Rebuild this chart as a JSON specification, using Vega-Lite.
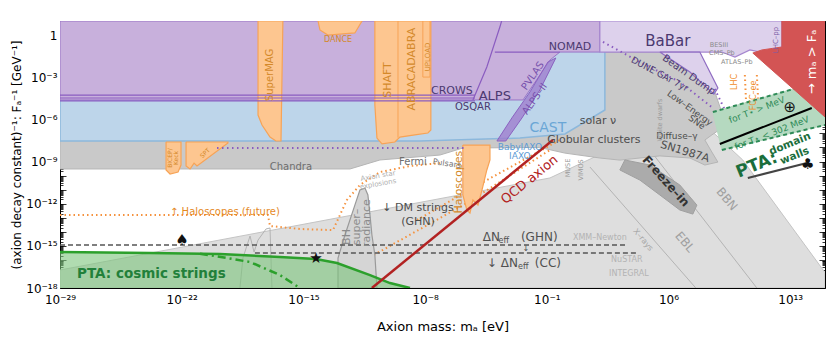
{
"$schema": "https://vega.github.io/schema/vega-lite/v6.json",
"width": 765, "height": 267,
"autosize": {"type": "none"},
"padding": {"left": 60, "top": 21, "right": 5, "bottom": 50},
"background": "white",
"config": {"view": {"stroke": "#000", "strokeWidth": 1}, "font": "DejaVu Sans", "text": {"font": "DejaVu Sans"}},
"datasets": {
"A": [{"i":0,"m":-29,"g":-18},{"i":1,"m":-29,"g":-16.72},{"i":2,"m":-0.82,"g":-10.17},{"i":3,"m":2.05,"g":-8.5},{"i":4,"m":5.5,"g":-6.5},{"i":5,"m":7.8,"g":-6.05},{"i":6,"m":10.27,"g":-8.89},{"i":7,"m":15,"g":-16.9},{"i":8,"m":15,"g":-18},{"i":9,"m":-29,"g":-18}],
"B": [{"i":0,"m":-29,"g":-7.4},{"i":1,"m":0.04,"g":-7.0},{"i":2,"m":2.34,"g":-1.21},{"i":3,"m":7.8,"g":-1.21},{"i":4,"m":8.66,"g":-4.05},{"i":5,"m":9.18,"g":-5.9},{"i":6,"m":9.07,"g":-6.62},{"i":7,"m":8.49,"g":-7.11},{"i":8,"m":8.09,"g":-7.47},{"i":9,"m":8.49,"g":-8.32},{"i":10,"m":8.84,"g":-9.04},{"i":11,"m":8.09,"g":-9.25},{"i":12,"m":7.23,"g":-8.75},{"i":13,"m":5.5,"g":-8.6},{"i":14,"m":3.2,"g":-8.9},{"i":15,"m":2.05,"g":-8.75},{"i":16,"m":0.04,"g":-8.4},{"i":17,"m":-1.4,"g":-8.0},{"i":18,"m":-5.83,"g":-8.04},{"i":19,"m":-7.15,"g":-8.54},{"i":20,"m":-10.6,"g":-8.89},{"i":21,"m":-12.32,"g":-9.53},{"i":22,"m":-29,"g":-9.53},{"i":23,"m":-29,"g":-7.4}],
"FZ": [{"i":0,"m":3.49,"g":-8.89},{"i":1,"m":4.93,"g":-9.25},{"i":2,"m":6.65,"g":-10.67},{"i":3,"m":7.63,"g":-12.1},{"i":4,"m":7.4,"g":-12.74},{"i":5,"m":6.65,"g":-12.45},{"i":6,"m":5.5,"g":-11.38},{"i":7,"m":4.35,"g":-10.32},{"i":8,"m":3.2,"g":-9.6},{"i":9,"m":3.49,"g":-8.89}],
"C": [{"i":0,"m":-29,"g":1},{"i":1,"m":2.34,"g":1},{"i":2,"m":2.34,"g":-5.33},{"i":3,"m":0.04,"g":-7.04},{"i":4,"m":-2.55,"g":-7.33},{"i":5,"m":-8.3,"g":-7.54},{"i":6,"m":-29,"g":-7.54},{"i":7,"m":-29,"g":1}],
"D": [{"i":0,"m":-29,"g":1},{"i":1,"m":2.05,"g":1},{"i":2,"m":2.05,"g":-1.21},{"i":3,"m":-0.25,"g":-1.21},{"i":4,"m":-0.82,"g":-1.78},{"i":5,"m":-2.37,"g":-4.62},{"i":6,"m":-29,"g":-4.62},{"i":7,"m":-29,"g":1}],
"HATCH": [{"i":0,"m":-3.87,"g":-7.54},{"i":1,"m":-3.01,"g":-5.9},{"i":2,"m":-1.97,"g":-4.05},{"i":3,"m":-0.94,"g":-1.92},{"i":4,"m":-0.48,"g":-1.63},{"i":5,"m":-1.4,"g":-3.91},{"i":6,"m":-2.43,"g":-5.9},{"i":7,"m":-3.36,"g":-7.54},{"i":8,"m":-3.87,"g":-7.54}],
"E": [{"i":0,"m":2.05,"g":1},{"i":1,"m":12.52,"g":1},{"i":2,"m":12.52,"g":-0.85},{"i":3,"m":11.54,"g":-1.28},{"i":4,"m":10.68,"g":-1.06},{"i":5,"m":9.82,"g":-1.56},{"i":6,"m":9.07,"g":-1.21},{"i":7,"m":2.05,"g":-1.21},{"i":8,"m":2.05,"g":1}],
"BD": [{"i":0,"m":5.5,"g":-1.21},{"i":1,"m":7.8,"g":-1.21},{"i":2,"m":8.84,"g":-3.77},{"i":3,"m":8.61,"g":-4.2},{"i":4,"m":7.23,"g":-2.63},{"i":5,"m":5.5,"g":-1.21}],
"F": [{"i":0,"m":12.52,"g":1},{"i":1,"m":15,"g":1},{"i":2,"m":15,"g":-5.83},{"i":3,"m":10.85,"g":-1.28},{"i":4,"m":11.37,"g":-1.06},{"i":5,"m":12.52,"g":-0.85},{"i":6,"m":12.52,"g":1}],
"G": [{"i":0,"m":8.55,"g":-5.48},{"i":1,"m":13.38,"g":-3.77},{"i":2,"m":15,"g":-5.55},{"i":3,"m":15,"g":-6.4},{"i":4,"m":9.07,"g":-8.18},{"i":5,"m":8.55,"g":-5.48}],
"OR": [
{"r":"SuperMAG","i":0,"m":-17.61,"g":1},{"r":"SuperMAG","i":1,"m":-17.61,"g":-5.69},{"r":"SuperMAG","i":2,"m":-17.38,"g":-6.4},{"r":"SuperMAG","i":3,"m":-16.92,"g":-7.26},{"r":"SuperMAG","i":4,"m":-16.58,"g":-7.54},{"r":"SuperMAG","i":5,"m":-16.29,"g":-7.54},{"r":"SuperMAG","i":6,"m":-16.18,"g":1},{"r":"SuperMAG","i":7,"m":-17.61,"g":1},
{"r":"DANCE","i":0,"m":-14.16,"g":1},{"r":"DANCE","i":1,"m":-14.05,"g":0.36},{"r":"DANCE","i":2,"m":-13.59,"g":0},{"r":"DANCE","i":3,"m":-12.04,"g":0.15},{"r":"DANCE","i":4,"m":-11.63,"g":1},{"r":"DANCE","i":5,"m":-14.16,"g":1},
{"r":"SHAFT","i":0,"m":-10.89,"g":1},{"r":"SHAFT","i":1,"m":-10.89,"g":-4.98},{"r":"SHAFT","i":2,"m":-10.77,"g":-7.33},{"r":"SHAFT","i":3,"m":-10.48,"g":-7.75},{"r":"SHAFT","i":4,"m":-9.74,"g":-7.61},{"r":"SHAFT","i":5,"m":-9.45,"g":-7.26},{"r":"SHAFT","i":6,"m":-8.59,"g":-7.11},{"r":"SHAFT","i":7,"m":-7.84,"g":-6.97},{"r":"SHAFT","i":8,"m":-7.67,"g":-6.76},{"r":"SHAFT","i":9,"m":-7.67,"g":1},{"r":"SHAFT","i":10,"m":-10.89,"g":1},
{"r":"BICEP","i":0,"m":-22.9,"g":-7.61},{"r":"BICEP","i":1,"m":-22.9,"g":-9.6},{"r":"BICEP","i":2,"m":-22.67,"g":-9.89},{"r":"BICEP","i":3,"m":-22.21,"g":-9.75},{"r":"BICEP","i":4,"m":-22.04,"g":-9.25},{"r":"BICEP","i":5,"m":-22.04,"g":-7.61},{"r":"BICEP","i":6,"m":-22.9,"g":-7.61},
{"r":"SPT","i":0,"m":-21.75,"g":-7.61},{"r":"SPT","i":1,"m":-21.75,"g":-9.32},{"r":"SPT","i":2,"m":-21.52,"g":-9.53},{"r":"SPT","i":3,"m":-21.29,"g":-9.11},{"r":"SPT","i":4,"m":-21.12,"g":-9.32},{"r":"SPT","i":5,"m":-19.34,"g":-7.68},{"r":"SPT","i":6,"m":-19.34,"g":-7.61},{"r":"SPT","i":7,"m":-21.75,"g":-7.61},
{"r":"Halo","i":0,"m":-5.83,"g":-7.83},{"r":"Halo","i":1,"m":-5.83,"g":-11.38},{"r":"Halo","i":2,"m":-5.6,"g":-12.45},{"r":"Halo","i":3,"m":-5.42,"g":-12.67},{"r":"Halo","i":4,"m":-5.25,"g":-11.74},{"r":"Halo","i":5,"m":-4.96,"g":-12.1},{"r":"Halo","i":6,"m":-4.73,"g":-11.03},{"r":"Halo","i":7,"m":-4.45,"g":-9.6},{"r":"Halo","i":8,"m":-4.27,"g":-8.89},{"r":"Halo","i":9,"m":-4.27,"g":-7.83},{"r":"Halo","i":10,"m":-5.83,"g":-7.83}],
"ORL": [{"r":"div","i":0,"m":-9.56,"g":1},{"r":"div","i":1,"m":-9.56,"g":-7.3},{"r":"up","i":0,"m":-8.13,"g":1},{"r":"up","i":1,"m":-8.13,"g":-2.99},{"r":"up","i":2,"m":-7.72,"g":-2.99},{"r":"up","i":3,"m":-7.72,"g":1}],
"BH": [{"i":0,"m":-13.01,"g":-18},{"i":1,"m":-13.01,"g":-15.87},{"i":2,"m":-12.61,"g":-14.23},{"i":3,"m":-12.04,"g":-12.1},{"i":4,"m":-11.75,"g":-11.03},{"i":5,"m":-11.46,"g":-10.89},{"i":6,"m":-11.29,"g":-11.38},{"i":7,"m":-11.17,"g":-12.81},{"i":8,"m":-11.06,"g":-14.23},{"i":9,"m":-10.89,"g":-15.65},{"i":10,"m":-10.77,"g":-18},{"i":11,"m":-13.01,"g":-18}],
"H": [{"i":0,"m":-29,"g":-15.44},{"i":1,"m":-23.82,"g":-15.51},{"i":2,"m":-19.8,"g":-15.58},{"i":3,"m":-16.35,"g":-15.8},{"i":4,"m":-14.28,"g":-15.94},{"i":5,"m":-13.07,"g":-16.22},{"i":6,"m":-11.17,"g":-17.08},{"i":7,"m":-10.02,"g":-17.65},{"i":8,"m":-8.87,"g":-18},{"i":9,"m":-29,"g":-18},{"i":10,"m":-29,"g":-15.44}],
"HL": [{"i":0,"m":-29,"g":-15.44},{"i":1,"m":-23.82,"g":-15.51},{"i":2,"m":-19.8,"g":-15.58},{"i":3,"m":-16.35,"g":-15.8},{"i":4,"m":-14.28,"g":-15.94},{"i":5,"m":-13.07,"g":-16.22},{"i":6,"m":-11.17,"g":-17.08},{"i":7,"m":-10.02,"g":-17.65},{"i":8,"m":-8.87,"g":-18}],
"DDOT": [{"i":0,"m":-20.95,"g":-15.56},{"i":1,"m":-19.97,"g":-15.75},{"i":2,"m":-18.07,"g":-16.15},{"i":3,"m":-16.35,"g":-17.08},{"i":4,"m":-15.2,"g":-18}],
"GRAYL": [{"r":"L1","i":0,"m":4.93,"g":-8.18},{"r":"L1","i":1,"m":11.08,"g":-18},{"r":"L2","i":0,"m":1.48,"g":-9.39},{"r":"L2","i":1,"m":7.57,"g":-18},
{"r":"tri","i":0,"m":-18.65,"g":-18},{"r":"tri","i":1,"m":-18.48,"g":-15.87},{"r":"tri","i":2,"m":-18.07,"g":-14.3},{"r":"tri","i":3,"m":-17.84,"g":-15.44},{"r":"tri","i":4,"m":-17.61,"g":-14.59},{"r":"tri","i":5,"m":-17.15,"g":-13.8},{"r":"tri","i":6,"m":-16.92,"g":-13.73},{"r":"tri","i":7,"m":-16.81,"g":-18}],
"PURL": [{"r":"c1","i":0,"m":-29,"g":-4.27},{"r":"c1","i":1,"m":-5.13,"g":-4.27},{"r":"c2","i":0,"m":-29,"g":-4.48},{"r":"c2","i":1,"m":-5.13,"g":-4.48},{"r":"c3","i":0,"m":-29,"g":-4.69},{"r":"c3","i":1,"m":-5.13,"g":-4.69},
{"r":"alps","i":0,"m":-5.25,"g":-4.62},{"r":"alps","i":1,"m":-4.45,"g":-2.27},{"r":"alps","i":2,"m":-3.7,"g":0.57},{"r":"alps","i":3,"m":-3.6,"g":1},
{"r":"nomad","i":0,"m":-3.99,"g":-1.21},{"r":"nomad","i":1,"m":-0.25,"g":-1.21}],
"PURD": [{"r":"iaxo","i":0,"m":-19.97,"g":-8.04},{"r":"iaxo","i":1,"m":-5.71,"g":-8.04},
{"r":"dune","i":0,"m":2.23,"g":-0.49},{"r":"dune","i":1,"m":4.35,"g":-1.92},{"r":"dune","i":2,"m":6.65,"g":-3.34},{"r":"dune","i":3,"m":8.55,"g":-5.19},
{"r":"bd2","i":0,"m":8.66,"g":-3.84},{"r":"bd2","i":1,"m":9.24,"g":-5.33}],
"ORD": [{"r":"o1","i":0,"m":-29,"g":-12.81},{"r":"o1","i":1,"m":-17.04,"g":-12.81},{"r":"o1","i":2,"m":-16.92,"g":-13.59},{"r":"o1","i":3,"m":-15.2,"g":-13.8},{"r":"o1","i":4,"m":-13.3,"g":-13.88},{"r":"o1","i":5,"m":-12.9,"g":-12.81},{"r":"o1","i":6,"m":-12.5,"g":-11.74},{"r":"o1","i":7,"m":-11.75,"g":-10.67},{"r":"o1","i":8,"m":-10.6,"g":-9.75},{"r":"o1","i":9,"m":-8.87,"g":-9.32},{"r":"o1","i":10,"m":-7.15,"g":-9.11},
{"r":"o2","i":0,"m":-11.17,"g":-15.8},{"r":"o2","i":1,"m":-5.6,"g":-11.95},{"r":"o2","i":2,"m":-0.82,"g":-8.18},
{"r":"o3","i":0,"m":-8.47,"g":-13.16},{"r":"o3","i":1,"m":-4.45,"g":-10.32},{"r":"o3","i":2,"m":-0.25,"g":-7.47},
{"r":"lhc","i":0,"m":10.39,"g":-2.84},{"r":"lhc","i":1,"m":10.56,"g":-7.47},
{"r":"fcc","i":0,"m":11.08,"g":-2.84},{"r":"fcc","i":1,"m":11.25,"g":-6.76}],
"DASH": [{"r":"ghn","i":0,"m":-29,"g":-14.94},{"r":"ghn","i":1,"m":3.66,"g":-14.94},{"r":"cc","i":0,"m":-17.79,"g":-15.51},{"r":"cc","i":1,"m":4.18,"g":-15.51}],
"DD": [{"r":"u","i":0,"m":8.55,"g":-5.48},{"r":"u","i":1,"m":13.38,"g":-3.77},{"r":"l","i":0,"m":9.07,"g":-8.18},{"r":"l","i":1,"m":15,"g":-6.4}],
"BLK": [{"i":0,"m":8.95,"g":-7.75},{"i":1,"m":14.24,"g":-5.19}],
"GRL": [{"i":0,"m":10.56,"g":-10.17},{"i":1,"m":13.96,"g":-9.11}],
"QCD": [{"i":0,"m":-11.06,"g":-18},{"i":1,"m":-0.65,"g":-7.47}]
},
"encoding": {
"x": {"field": "m", "type": "quantitative", "scale": {"domain": [-29, 15], "nice": false, "zero": false}, "axis": null},
"y": {"field": "g", "type": "quantitative", "scale": {"domain": [-18, 1], "nice": false, "zero": false}, "axis": null}
},
"resolve": {"axis": {"x": "independent", "y": "independent"}},
"layer": [
{"data": {"name": "A"}, "mark": {"type": "line", "fill": "#dedede", "stroke": "#c4c4c4", "strokeWidth": 1, "clip": true},
 "encoding": {"order": {"field": "i"},
  "x": {"field": "m", "type": "quantitative", "scale": {"domain": [-29, 15], "nice": false, "zero": false},
   "axis": {"orient": "bottom", "values": [
-29,-28.699,-28.523,-28.398,-28.301,-28.222,-28.155,-28.097,-28.046,
-28,-27.699,-27.523,-27.398,-27.301,-27.222,-27.155,-27.097,-27.046,
-27,-26.699,-26.523,-26.398,-26.301,-26.222,-26.155,-26.097,-26.046,
-26,-25.699,-25.523,-25.398,-25.301,-25.222,-25.155,-25.097,-25.046,
-25,-24.699,-24.523,-24.398,-24.301,-24.222,-24.155,-24.097,-24.046,
-24,-23.699,-23.523,-23.398,-23.301,-23.222,-23.155,-23.097,-23.046,
-23,-22.699,-22.523,-22.398,-22.301,-22.222,-22.155,-22.097,-22.046,
-22,-21.699,-21.523,-21.398,-21.301,-21.222,-21.155,-21.097,-21.046,
-21,-20.699,-20.523,-20.398,-20.301,-20.222,-20.155,-20.097,-20.046,
-20,-19.699,-19.523,-19.398,-19.301,-19.222,-19.155,-19.097,-19.046,
-19,-18.699,-18.523,-18.398,-18.301,-18.222,-18.155,-18.097,-18.046,
-18,-17.699,-17.523,-17.398,-17.301,-17.222,-17.155,-17.097,-17.046,
-17,-16.699,-16.523,-16.398,-16.301,-16.222,-16.155,-16.097,-16.046,
-16,-15.699,-15.523,-15.398,-15.301,-15.222,-15.155,-15.097,-15.046,
-15,-14.699,-14.523,-14.398,-14.301,-14.222,-14.155,-14.097,-14.046,
-14,-13.699,-13.523,-13.398,-13.301,-13.222,-13.155,-13.097,-13.046,
-13,-12.699,-12.523,-12.398,-12.301,-12.222,-12.155,-12.097,-12.046,
-12,-11.699,-11.523,-11.398,-11.301,-11.222,-11.155,-11.097,-11.046,
-11,-10.699,-10.523,-10.398,-10.301,-10.222,-10.155,-10.097,-10.046,
-10,-9.699,-9.523,-9.398,-9.301,-9.222,-9.155,-9.097,-9.046,
-9,-8.699,-8.523,-8.398,-8.301,-8.222,-8.155,-8.097,-8.046,
-8,-7.699,-7.523,-7.398,-7.301,-7.222,-7.155,-7.097,-7.046,
-7,-6.699,-6.523,-6.398,-6.301,-6.222,-6.155,-6.097,-6.046,
-6,-5.699,-5.523,-5.398,-5.301,-5.222,-5.155,-5.097,-5.046,
-5,-4.699,-4.523,-4.398,-4.301,-4.222,-4.155,-4.097,-4.046,
-4,-3.699,-3.523,-3.398,-3.301,-3.222,-3.155,-3.097,-3.046,
-3,-2.699,-2.523,-2.398,-2.301,-2.222,-2.155,-2.097,-2.046,
-2,-1.699,-1.523,-1.398,-1.301,-1.222,-1.155,-1.097,-1.046,
-1,-0.699,-0.523,-0.398,-0.301,-0.222,-0.155,-0.097,-0.046,
0,0.301,0.477,0.602,0.699,0.778,0.845,0.903,0.954,
1,1.301,1.477,1.602,1.699,1.778,1.845,1.903,1.954,
2,2.301,2.477,2.602,2.699,2.778,2.845,2.903,2.954,
3,3.301,3.477,3.602,3.699,3.778,3.845,3.903,3.954,
4,4.301,4.477,4.602,4.699,4.778,4.845,4.903,4.954,
5,5.301,5.477,5.602,5.699,5.778,5.845,5.903,5.954,
6,6.301,6.477,6.602,6.699,6.778,6.845,6.903,6.954,
7,7.301,7.477,7.602,7.699,7.778,7.845,7.903,7.954,
8,8.301,8.477,8.602,8.699,8.778,8.845,8.903,8.954,
9,9.301,9.477,9.602,9.699,9.778,9.845,9.903,9.954,
10,10.301,10.477,10.602,10.699,10.778,10.845,10.903,10.954,
11,11.301,11.477,11.602,11.699,11.778,11.845,11.903,11.954,
12,12.301,12.477,12.602,12.699,12.778,12.845,12.903,12.954,
13,13.301,13.477,13.602,13.699,13.778,13.845,13.903,13.954,
14,14.301,14.477,14.602,14.699,14.778,14.845,14.903,14.954,
15],
    "labelExpr": "datum.value==-29?'10⁻²⁹':datum.value==-22?'10⁻²²':datum.value==-15?'10⁻¹⁵':datum.value==-8?'10⁻⁸':datum.value==-1?'10⁻¹':datum.value==6?'10⁶':datum.value==13?'10¹³':''",
    "title": "Axion mass: mₐ [eV]", "titleFont": "DejaVu Sans", "titleFontSize": 13, "titleFontWeight": "normal", "titleColor": "#000", "titlePadding": 12,
    "labelFont": "DejaVu Sans", "labelFontSize": 12, "labelColor": "#000", "labelPadding": 12, "labelFlush": false, "labelOverlap": false,
    "tickSize": {"condition": {"test": "datum.value == round(datum.value)", "value": -6}, "value": -3}, "tickColor": "#000", "tickWidth": 0.8, "domain": false, "grid": false}},
  "y": {"field": "g", "type": "quantitative", "scale": {"domain": [-18, 1], "nice": false, "zero": false},
   "axis": {"orient": "left", "values": [
-18,-17.699,-17.523,-17.398,-17.301,-17.222,-17.155,-17.097,-17.046,
-17,-16.699,-16.523,-16.398,-16.301,-16.222,-16.155,-16.097,-16.046,
-16,-15.699,-15.523,-15.398,-15.301,-15.222,-15.155,-15.097,-15.046,
-15,-14.699,-14.523,-14.398,-14.301,-14.222,-14.155,-14.097,-14.046,
-14,-13.699,-13.523,-13.398,-13.301,-13.222,-13.155,-13.097,-13.046,
-13,-12.699,-12.523,-12.398,-12.301,-12.222,-12.155,-12.097,-12.046,
-12,-11.699,-11.523,-11.398,-11.301,-11.222,-11.155,-11.097,-11.046,
-11,-10.699,-10.523,-10.398,-10.301,-10.222,-10.155,-10.097,-10.046,
-10,-9.699,-9.523,-9.398,-9.301,-9.222,-9.155,-9.097,-9.046,
-9,-8.699,-8.523,-8.398,-8.301,-8.222,-8.155,-8.097,-8.046,
-8,-7.699,-7.523,-7.398,-7.301,-7.222,-7.155,-7.097,-7.046,
-7,-6.699,-6.523,-6.398,-6.301,-6.222,-6.155,-6.097,-6.046,
-6,-5.699,-5.523,-5.398,-5.301,-5.222,-5.155,-5.097,-5.046,
-5,-4.699,-4.523,-4.398,-4.301,-4.222,-4.155,-4.097,-4.046,
-4,-3.699,-3.523,-3.398,-3.301,-3.222,-3.155,-3.097,-3.046,
-3,-2.699,-2.523,-2.398,-2.301,-2.222,-2.155,-2.097,-2.046,
-2,-1.699,-1.523,-1.398,-1.301,-1.222,-1.155,-1.097,-1.046,
-1,-0.699,-0.523,-0.398,-0.301,-0.222,-0.155,-0.097,-0.046,
0,0.301,0.477,0.602,0.699,0.778,0.845,0.903,0.954,
1],
    "labelExpr": "datum.value==-18?'10⁻¹⁸':datum.value==-15?'10⁻¹⁵':datum.value==-12?'10⁻¹²':datum.value==-9?'10⁻⁹':datum.value==-6?'10⁻⁶':datum.value==-3?'10⁻³':datum.value==0?'1':''",
    "title": "(axion decay constant)⁻¹: Fₐ⁻¹ [GeV⁻¹]", "titleFont": "DejaVu Sans", "titleFontSize": 12, "titleFontWeight": "normal", "titleColor": "#000", "titlePadding": 2,
    "labelFont": "DejaVu Sans", "labelFontSize": 12, "labelColor": "#000", "labelPadding": 9, "labelFlush": false, "labelOverlap": false,
    "tickSize": {"condition": {"test": "datum.value == round(datum.value)", "value": -6}, "value": -3}, "tickColor": "#000", "tickWidth": 0.8, "domain": false, "grid": false}}}},
{"data": {"name": "GRAYL"}, "mark": {"type": "line", "stroke": "#b4b4b4", "strokeWidth": 1, "clip": true}, "encoding": {"order": {"field": "i"}, "detail": {"field": "r"}}},
{"data": {"name": "B"}, "mark": {"type": "line", "fill": "#c9c9c9", "stroke": "#b5b5b5", "strokeWidth": 1, "clip": true}, "encoding": {"order": {"field": "i"}}},
{"data": {"name": "FZ"}, "mark": {"type": "line", "fill": "#ababab", "stroke": "#a0a0a0", "strokeWidth": 1, "clip": true}, "encoding": {"order": {"field": "i"}}},
{"data": {"name": "C"}, "mark": {"type": "line", "fill": "#bdd5ea", "stroke": "#8cb8dc", "strokeWidth": 1.5, "clip": true}, "encoding": {"order": {"field": "i"}}},
{"data": {"name": "ORD"}, "mark": {"type": "line", "stroke": "#f5923e", "strokeWidth": 2, "strokeDash": [1.5, 3], "clip": true}, "encoding": {"order": {"field": "i"}, "detail": {"field": "r"}}},
{"data": {"name": "D"}, "mark": {"type": "line", "fill": "#c8b0dc", "stroke": "#9a74c6", "strokeWidth": 1, "clip": true}, "encoding": {"order": {"field": "i"}}},
{"data": {"name": "HATCH"}, "mark": {"type": "line", "fill": "#9d78cc", "fillOpacity": 0.75, "stroke": "#8a62c0", "strokeWidth": 1, "clip": true}, "encoding": {"order": {"field": "i"}}},
{"data": {"name": "E"}, "mark": {"type": "line", "fill": "#ddd1ec", "stroke": "#a586cf", "strokeWidth": 1.2, "clip": true}, "encoding": {"order": {"field": "i"}}},
{"data": {"name": "BD"}, "mark": {"type": "line", "fill": "#ddd1ec", "stroke": "#8f6cc2", "strokeWidth": 1.2, "clip": true}, "encoding": {"order": {"field": "i"}}},
{"data": {"name": "OR"}, "mark": {"type": "line", "fill": "#fdc690", "stroke": "#f7a356", "strokeWidth": 1.2, "clip": true}, "encoding": {"order": {"field": "i"}, "detail": {"field": "r"}}},
{"data": {"name": "ORL"}, "mark": {"type": "line", "stroke": "#f7a356", "strokeWidth": 1, "clip": true}, "encoding": {"order": {"field": "i"}, "detail": {"field": "r"}}},
{"data": {"name": "PURL"}, "mark": {"type": "line", "stroke": "#8a5cc0", "strokeWidth": 1.2, "clip": true}, "encoding": {"order": {"field": "i"}, "detail": {"field": "r"}}},
{"data": {"name": "PURD"}, "mark": {"type": "line", "stroke": "#8a5cc0", "strokeWidth": 2, "strokeDash": [1.5, 3.5], "clip": true}, "encoding": {"order": {"field": "i"}, "detail": {"field": "r"}}},
{"data": {"name": "G"}, "mark": {"type": "line", "fill": "#b5d9c0", "stroke": "#b5d9c0", "strokeWidth": 1, "clip": true}, "encoding": {"order": {"field": "i"}}},
{"data": {"name": "DD"}, "mark": {"type": "line", "stroke": "#2e8b57", "strokeWidth": 2, "strokeDash": [4, 3], "clip": true}, "encoding": {"order": {"field": "i"}, "detail": {"field": "r"}}},
{"data": {"name": "BLK"}, "mark": {"type": "line", "stroke": "#000", "strokeWidth": 2, "clip": true}, "encoding": {"order": {"field": "i"}}},
{"data": {"name": "GRL"}, "mark": {"type": "line", "stroke": "#444", "strokeWidth": 2, "clip": true}, "encoding": {"order": {"field": "i"}}},
{"data": {"name": "F"}, "mark": {"type": "line", "fill": "#d35454", "stroke": "#d35454", "strokeWidth": 1, "clip": true}, "encoding": {"order": {"field": "i"}}},
{"data": {"name": "BH"}, "mark": {"type": "line", "fill": "#d5d5d5", "stroke": "#9a9a9a", "strokeWidth": 1.2, "clip": true}, "encoding": {"order": {"field": "i"}}},
{"data": {"name": "H"}, "mark": {"type": "line", "fill": "#7cc47c", "fillOpacity": 0.6, "stroke": "#7cc47c", "strokeOpacity": 0, "clip": true}, "encoding": {"order": {"field": "i"}}},
{"data": {"name": "DASH"}, "mark": {"type": "line", "stroke": "#555", "strokeWidth": 1.4, "strokeDash": [5, 3], "clip": true}, "encoding": {"order": {"field": "i"}, "detail": {"field": "r"}}},
{"data": {"name": "HL"}, "mark": {"type": "line", "stroke": "#2ca02c", "strokeWidth": 2.5, "clip": true}, "encoding": {"order": {"field": "i"}}},
{"data": {"name": "DDOT"}, "mark": {"type": "line", "stroke": "#2ca02c", "strokeWidth": 2.5, "strokeDash": [8, 4, 2, 4], "clip": true}, "encoding": {"order": {"field": "i"}}},
{"data": {"name": "QCD"}, "mark": {"type": "line", "stroke": "#b22222", "strokeWidth": 2.5, "clip": true}, "encoding": {"order": {"field": "i"}}},

{"data": {"values": [{"t":"CROWS","m":-6.46,"g":-3.98},{"t":"NOMAD","m":0.33,"g":-0.85}]}, "mark": {"type": "text", "fontSize": 11, "color": "#4b3970"}, "encoding": {"text": {"field": "t"}}},
{"data": {"values": [{"t":"OSQAR","m":-5.25,"g":-5.12}]}, "mark": {"type": "text", "fontSize": 10, "color": "#4b3970"}, "encoding": {"text": {"field": "t"}}},
{"data": {"values": [{"t":"ALPS","m":-3.99,"g":-4.34}]}, "mark": {"type": "text", "fontSize": 13, "color": "#4b3970"}, "encoding": {"text": {"field": "t"}}},
{"data": {"values": [{"t":"BaBar","m":5.96,"g":-0.42}]}, "mark": {"type": "text", "fontSize": 15, "color": "#4b3970"}, "encoding": {"text": {"field": "t"}}},
{"data": {"values": [{"t":"PVLAS","m":-1.8,"g":-2.91},{"t":"ALPS–II","m":-1.69,"g":-4.55}]}, "mark": {"type": "text", "fontSize": 10, "angle": -55, "color": "#7650ad"}, "encoding": {"text": {"field": "t"}}},
{"data": {"values": [{"t":"Beam Dump","m":7.17,"g":-2.84}]}, "mark": {"type": "text", "fontSize": 10, "angle": 35, "color": "#4b3970"}, "encoding": {"text": {"field": "t"}}},
{"data": {"values": [{"t":"DUNE GAr 7yr","m":5.5,"g":-2.77}]}, "mark": {"type": "text", "fontSize": 9, "angle": 28, "color": "#4b3970"}, "encoding": {"text": {"field": "t"}}},
{"data": {"values": [{"t":"SHAFT","m":-10.14,"g":-3.2},{"t":"ABRACADABRA","m":-8.76,"g":-2.42},{"t":"Haloscopes","m":-6.06,"g":-10.46}]}, "mark": {"type": "text", "fontSize": 11, "angle": -90, "color": "#d4892a"}, "encoding": {"text": {"field": "t"}}},
{"data": {"values": [{"t":"SuperMAG","m":-16.92,"g":-2.84}]}, "mark": {"type": "text", "fontSize": 10, "angle": -90, "color": "#d4892a"}, "encoding": {"text": {"field": "t"}}},
{"data": {"values": [{"t":"UPLOAD","m":-7.84,"g":-1.56}]}, "mark": {"type": "text", "fontSize": 7, "angle": -90, "color": "#d4892a"}, "encoding": {"text": {"field": "t"}}},
{"data": {"values": [{"t":"DANCE","m":-13.01,"g":-0.35}]}, "mark": {"type": "text", "fontSize": 8, "color": "#d4892a"}, "encoding": {"text": {"field": "t"}}},
{"data": {"values": [{"t":"BICEP/","m":-22.67,"g":-8.75},{"t":"Keck","m":-22.33,"g":-8.75}]}, "mark": {"type": "text", "fontSize": 6, "angle": -90, "color": "#d4892a"}, "encoding": {"text": {"field": "t"}}},
{"data": {"values": [{"t":"SPT","m":-20.66,"g":-8.4}]}, "mark": {"type": "text", "fontSize": 6, "angle": -45, "color": "#d4892a"}, "encoding": {"text": {"field": "t"}}},
{"data": {"values": [{"t":"LHC","m":9.82,"g":-3.34},{"t":"FCC–ee","m":10.9,"g":-4.3}]}, "mark": {"type": "text", "fontSize": 8, "angle": -90, "color": "#f08c28"}, "encoding": {"text": {"field": "t"}}},
{"data": {"values": [{"t":"↑ Haloscopes (future)","m":-22.67,"g":-12.59}]}, "mark": {"type": "text", "fontSize": 10, "align": "left", "color": "#e58a1f"}, "encoding": {"text": {"field": "t"}}},
{"data": {"values": [{"t":"solar ν","m":1.94,"g":-6.12},{"t":"Globular clusters","m":1.71,"g":-7.47},{"t":"↓ DM strings","m":-8.41,"g":-12.31},{"t":"(GHN)","m":-8.41,"g":-13.31}]}, "mark": {"type": "text", "fontSize": 11, "color": "#4d4d4d"}, "encoding": {"text": {"field": "t"}}},
{"data": {"values": [{"t":"Diffuse–γ","m":6.48,"g":-7.19}]}, "mark": {"type": "text", "fontSize": 9, "color": "#4d4d4d"}, "encoding": {"text": {"field": "t"}}},
{"data": {"values": [{"t":"Low–Energy","m":7.23,"g":-5.19},{"t":"SNe","m":7.63,"g":-6.19}]}, "mark": {"type": "text", "fontSize": 9, "angle": 36, "color": "#4d4d4d"}, "encoding": {"text": {"field": "t"}}},
{"data": {"values": [{"t":"SN1987A","m":6.94,"g":-8.32}]}, "mark": {"type": "text", "fontSize": 11, "angle": 17, "color": "#4d4d4d"}, "encoding": {"text": {"field": "t"}}},
{"data": {"values": [{"t":"Freeze–in","m":5.85,"g":-10.39}]}, "mark": {"type": "text", "fontSize": 12, "fontWeight": "bold", "angle": 48, "color": "#333"}, "encoding": {"text": {"field": "t"}}},
{"data": {"values": [{"t":"Chandra","m":-15.72,"g":-9.39},{"t":"Fermi","m":-8.7,"g":-9.04}]}, "mark": {"type": "text", "fontSize": 10, "color": "#6e6e6e"}, "encoding": {"text": {"field": "t"}}},
{"data": {"values": [{"t":"Pulsars","m":-6.75,"g":-9.18}]}, "mark": {"type": "text", "fontSize": 8, "angle": 8, "color": "#777"}, "encoding": {"text": {"field": "t"}}},
{"data": {"values": [{"t":"BBN","m":9.36,"g":-11.67},{"t":"EBL","m":6.94,"g":-14.73}]}, "mark": {"type": "text", "fontSize": 12, "angle": 50, "color": "#a0a0a0"}, "encoding": {"text": {"field": "t"}}},
{"data": {"values": [{"t":"X–rays","m":4.52,"g":-14.59}]}, "mark": {"type": "text", "fontSize": 8, "angle": 50, "color": "#a8a8a8"}, "encoding": {"text": {"field": "t"}}},
{"data": {"values": [{"t":"XMM–Newton","m":2.05,"g":-14.44},{"t":"NuSTAR","m":3.6,"g":-16.01},{"t":"INTEGRAL","m":3.72,"g":-17.01}]}, "mark": {"type": "text", "fontSize": 8, "color": "#b3b3b3"}, "encoding": {"text": {"field": "t"}}},
{"data": {"values": [{"t":"Axion star","m":-10.71,"g":-10.03},{"t":"explosions","m":-10.71,"g":-10.6}]}, "mark": {"type": "text", "fontSize": 7, "angle": -10, "color": "#b0b0b0"}, "encoding": {"text": {"field": "t"}}},
{"data": {"values": [{"t":"BH","m":-12.5,"g":-14.37},{"t":"super–","m":-11.92,"g":-13.66},{"t":"radiance","m":-11.35,"g":-13.38}]}, "mark": {"type": "text", "fontSize": 11, "angle": -90, "color": "#8c8c8c"}, "encoding": {"text": {"field": "t"}}},
{"data": {"values": [{"t":"BESIII","m":8.9,"g":-0.7},{"t":"CMS–Pb","m":9.07,"g":-1.3},{"t":"ATLAS–Pb","m":9.93,"g":-1.9}]}, "mark": {"type": "text", "fontSize": 6.5, "color": "#8a8a8a"}, "encoding": {"text": {"field": "t"}}},
{"data": {"values": [{"t":"LHC–pp","m":12.17,"g":-0.35}]}, "mark": {"type": "text", "fontSize": 7, "angle": -90, "color": "#7a5aa5"}, "encoding": {"text": {"field": "t"}}},
{"data": {"values": [{"t":"White dwarfs","m":5.5,"g":-6.05},{"t":"MUSE","m":0.21,"g":-9.46},{"t":"VIMOS","m":0.96,"g":-9.6}]}, "mark": {"type": "text", "fontSize": 6.5, "angle": -90, "color": "#9a9a9a"}, "encoding": {"text": {"field": "t"}}},
{"data": {"values": [{"t":"CAST","m":-0.94,"g":-6.62}]}, "mark": {"type": "text", "fontSize": 14, "color": "#6aa6d6"}, "encoding": {"text": {"field": "t"}}},
{"data": {"values": [{"t":"BabyIAXO","m":-2.55,"g":-7.97},{"t":"IAXO","m":-2.55,"g":-8.61}]}, "mark": {"type": "text", "fontSize": 9, "color": "#5b9bd5"}, "encoding": {"text": {"field": "t"}}},
{"data": {"values": [{"t":"QCD axion","m":-2.0,"g":-10.29}]}, "mark": {"type": "text", "fontSize": 13, "angle": -39, "color": "#b22222"}, "encoding": {"text": {"field": "t"}}},
{"data": {"values": [{"t":"PTA: cosmic strings","m":-28.02,"g":-17.29}]}, "mark": {"type": "text", "fontSize": 13.5, "fontWeight": "bold", "align": "left", "baseline": "alphabetic", "color": "#22803a"}, "encoding": {"text": {"field": "t"}}},
{"data": {"values": [{"t":"PTA:","m":11.08,"g":-9.25}]}, "mark": {"type": "text", "fontSize": 17, "fontWeight": "bold", "angle": -22, "color": "#1b6e3c"}, "encoding": {"text": {"field": "t"}}},
{"data": {"values": [{"t":"domain","m":12.98,"g":-7.75},{"t":"walls","m":13.26,"g":-8.61}]}, "mark": {"type": "text", "fontSize": 10.5, "fontWeight": "bold", "angle": -22, "color": "#1b6e3c"}, "encoding": {"text": {"field": "t"}}},
{"data": {"values": [{"t":"for T⋆ > MeV","m":11.08,"g":-5.33},{"t":"for T⋆ < 302 MeV","m":11.94,"g":-6.97}]}, "mark": {"type": "text", "fontSize": 9, "angle": -21, "color": "#2e8b57"}, "encoding": {"text": {"field": "t"}}},
{"data": {"values": [{"t":"ΔN","m":-4.68,"g":-14.37},{"t":"(GHN)","m":-2.49,"g":-14.37},{"t":"↓ ΔN","m":-4.45,"g":-16.22},{"t":"(CC)","m":-1.69,"g":-16.22}]}, "mark": {"type": "text", "fontSize": 12, "align": "left", "color": "#505050"}, "encoding": {"text": {"field": "t"}}},
{"data": {"values": [{"t":"eff","m":-3.78,"g":-14.66},{"t":"eff","m":-2.66,"g":-16.51},{"t":"↓","m":-2.4,"g":-15.2}]}, "mark": {"type": "text", "fontSize": 8, "align": "left", "color": "#505050"}, "encoding": {"text": {"field": "t"}}},
{"data": {"values": [{"t":"♠","m":-21.98,"g":-14.59},{"t":"★","m":-14.28,"g":-15.87},{"t":"⊕","m":12.98,"g":-5.12},{"t":"♣","m":14.01,"g":-9.18}]}, "mark": {"type": "text", "fontSize": 15, "color": "#111"}, "encoding": {"text": {"field": "t"}}},
{"data": {"values": [{"t":"→ mₐ > Fₐ","m":14.24,"g":-1.92}]}, "mark": {"type": "text", "fontSize": 13, "angle": -90, "color": "#ffffff"}, "encoding": {"text": {"field": "t"}}},

{"data": {"values": [{"m": -29, "g": -18}]}, "mark": {"type": "point", "opacity": 0},
 "encoding": {
  "x": {"field": "m", "type": "quantitative", "scale": {"domain": [-29, 15], "nice": false, "zero": false},
   "axis": {"orient": "top", "values": [
-29,-28.699,-28.523,-28.398,-28.301,-28.222,-28.155,-28.097,-28.046,
-28,-27.699,-27.523,-27.398,-27.301,-27.222,-27.155,-27.097,-27.046,
-27,-26.699,-26.523,-26.398,-26.301,-26.222,-26.155,-26.097,-26.046,
-26,-25.699,-25.523,-25.398,-25.301,-25.222,-25.155,-25.097,-25.046,
-25,-24.699,-24.523,-24.398,-24.301,-24.222,-24.155,-24.097,-24.046,
-24,-23.699,-23.523,-23.398,-23.301,-23.222,-23.155,-23.097,-23.046,
-23,-22.699,-22.523,-22.398,-22.301,-22.222,-22.155,-22.097,-22.046,
-22,-21.699,-21.523,-21.398,-21.301,-21.222,-21.155,-21.097,-21.046,
-21,-20.699,-20.523,-20.398,-20.301,-20.222,-20.155,-20.097,-20.046,
-20,-19.699,-19.523,-19.398,-19.301,-19.222,-19.155,-19.097,-19.046,
-19,-18.699,-18.523,-18.398,-18.301,-18.222,-18.155,-18.097,-18.046,
-18,-17.699,-17.523,-17.398,-17.301,-17.222,-17.155,-17.097,-17.046,
-17,-16.699,-16.523,-16.398,-16.301,-16.222,-16.155,-16.097,-16.046,
-16,-15.699,-15.523,-15.398,-15.301,-15.222,-15.155,-15.097,-15.046,
-15,-14.699,-14.523,-14.398,-14.301,-14.222,-14.155,-14.097,-14.046,
-14,-13.699,-13.523,-13.398,-13.301,-13.222,-13.155,-13.097,-13.046,
-13,-12.699,-12.523,-12.398,-12.301,-12.222,-12.155,-12.097,-12.046,
-12,-11.699,-11.523,-11.398,-11.301,-11.222,-11.155,-11.097,-11.046,
-11,-10.699,-10.523,-10.398,-10.301,-10.222,-10.155,-10.097,-10.046,
-10,-9.699,-9.523,-9.398,-9.301,-9.222,-9.155,-9.097,-9.046,
-9,-8.699,-8.523,-8.398,-8.301,-8.222,-8.155,-8.097,-8.046,
-8,-7.699,-7.523,-7.398,-7.301,-7.222,-7.155,-7.097,-7.046,
-7,-6.699,-6.523,-6.398,-6.301,-6.222,-6.155,-6.097,-6.046,
-6,-5.699,-5.523,-5.398,-5.301,-5.222,-5.155,-5.097,-5.046,
-5,-4.699,-4.523,-4.398,-4.301,-4.222,-4.155,-4.097,-4.046,
-4,-3.699,-3.523,-3.398,-3.301,-3.222,-3.155,-3.097,-3.046,
-3,-2.699,-2.523,-2.398,-2.301,-2.222,-2.155,-2.097,-2.046,
-2,-1.699,-1.523,-1.398,-1.301,-1.222,-1.155,-1.097,-1.046,
-1,-0.699,-0.523,-0.398,-0.301,-0.222,-0.155,-0.097,-0.046,
0,0.301,0.477,0.602,0.699,0.778,0.845,0.903,0.954,
1,1.301,1.477,1.602,1.699,1.778,1.845,1.903,1.954,
2,2.301,2.477,2.602,2.699,2.778,2.845,2.903,2.954,
3,3.301,3.477,3.602,3.699,3.778,3.845,3.903,3.954,
4,4.301,4.477,4.602,4.699,4.778,4.845,4.903,4.954,
5,5.301,5.477,5.602,5.699,5.778,5.845,5.903,5.954,
6,6.301,6.477,6.602,6.699,6.778,6.845,6.903,6.954,
7,7.301,7.477,7.602,7.699,7.778,7.845,7.903,7.954,
8,8.301,8.477,8.602,8.699,8.778,8.845,8.903,8.954,
9,9.301,9.477,9.602,9.699,9.778,9.845,9.903,9.954,
10,10.301,10.477,10.602,10.699,10.778,10.845,10.903,10.954,
11,11.301,11.477,11.602,11.699,11.778,11.845,11.903,11.954,
12,12.301,12.477,12.602,12.699,12.778,12.845,12.903,12.954,
13,13.301,13.477,13.602,13.699,13.778,13.845,13.903,13.954,
14,14.301,14.477,14.602,14.699,14.778,14.845,14.903,14.954,
15], "labels": false, "title": null, "tickSize": {"condition": {"test": "datum.value == round(datum.value)", "value": -6}, "value": -3}, "tickColor": "#000", "tickWidth": 0.8, "domain": false, "grid": false}},
  "y": {"field": "g", "type": "quantitative", "scale": {"domain": [-18, 1], "nice": false, "zero": false},
   "axis": {"orient": "right", "values": [
-18,-17.699,-17.523,-17.398,-17.301,-17.222,-17.155,-17.097,-17.046,
-17,-16.699,-16.523,-16.398,-16.301,-16.222,-16.155,-16.097,-16.046,
-16,-15.699,-15.523,-15.398,-15.301,-15.222,-15.155,-15.097,-15.046,
-15,-14.699,-14.523,-14.398,-14.301,-14.222,-14.155,-14.097,-14.046,
-14,-13.699,-13.523,-13.398,-13.301,-13.222,-13.155,-13.097,-13.046,
-13,-12.699,-12.523,-12.398,-12.301,-12.222,-12.155,-12.097,-12.046,
-12,-11.699,-11.523,-11.398,-11.301,-11.222,-11.155,-11.097,-11.046,
-11,-10.699,-10.523,-10.398,-10.301,-10.222,-10.155,-10.097,-10.046,
-10,-9.699,-9.523,-9.398,-9.301,-9.222,-9.155,-9.097,-9.046,
-9,-8.699,-8.523,-8.398,-8.301,-8.222,-8.155,-8.097,-8.046,
-8,-7.699,-7.523,-7.398,-7.301,-7.222,-7.155,-7.097,-7.046,
-7,-6.699,-6.523,-6.398,-6.301,-6.222,-6.155,-6.097,-6.046,
-6,-5.699,-5.523,-5.398,-5.301,-5.222,-5.155,-5.097,-5.046,
-5,-4.699,-4.523,-4.398,-4.301,-4.222,-4.155,-4.097,-4.046,
-4,-3.699,-3.523,-3.398,-3.301,-3.222,-3.155,-3.097,-3.046,
-3,-2.699,-2.523,-2.398,-2.301,-2.222,-2.155,-2.097,-2.046,
-2,-1.699,-1.523,-1.398,-1.301,-1.222,-1.155,-1.097,-1.046,
-1,-0.699,-0.523,-0.398,-0.301,-0.222,-0.155,-0.097,-0.046,
0,0.301,0.477,0.602,0.699,0.778,0.845,0.903,0.954,
1], "labels": false, "title": null, "tickSize": {"condition": {"test": "datum.value == round(datum.value)", "value": -6}, "value": -3}, "tickColor": "#000", "tickWidth": 0.8, "domain": false, "grid": false}}}}
]
}
